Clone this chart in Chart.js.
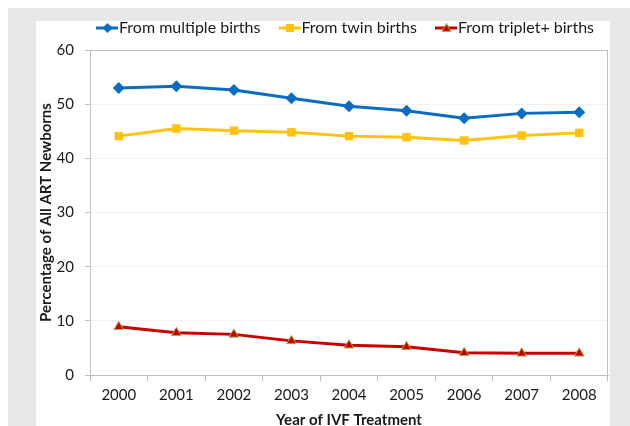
<!DOCTYPE html>
<html>
<head>
<meta charset="utf-8">
<script src="https://cdn.jsdelivr.net/npm/chart.js@4.4.0/dist/chart.umd.min.js"></script>
<style>
  html, body { margin: 0; padding: 0; background: #fff; width: 630px; height: 426px; overflow: hidden; position: relative; }
  #frame { position: absolute; left: 8px; top: 8px; width: 622px; height: 430px; background: #e7e8ea; }
  #panel { position: absolute; left: 36px; top: 21px; width: 574px; height: 420px; background: #fff; }
  #chart { position: absolute; left: 0; top: 0; }
</style>
</head>
<body>
<div id="frame"></div>
<div id="panel"></div>
<canvas id="chart" width="630" height="445"></canvas>
<script>
// values
const years = ['2000', '2001', '2002', '2003', '2004', '2005', '2006', '2007', '2008'];
const multipleBirths = [53.0, 53.3, 52.6, 51.1, 49.6, 48.8, 47.4, 48.3, 48.5];
const twinBirths = [44.1, 45.5, 45.1, 44.8, 44.1, 43.9, 43.3, 44.2, 44.7];
const tripletBirths = [8.9, 7.8, 7.5, 6.3, 5.5, 5.2, 4.1, 4.0, 4.0];
const seriesNames = ['From multiple births', 'From twin births', 'From triplet+ births'];

const BLUE = '#0a6cc2';
const YELLOW = '#ffc20e';
const RED = '#c80000';
const AXIS = '#bfbfbf';
const FONT = 'Lato, "Open Sans", sans-serif';

/**
 * Builds a small Excel-style legend icon: a line with the marker in the middle.
 */
function makeLegendIcon(color, shape, borderColor) {
    const c = document.createElement('canvas');
    c.width = 22;
    c.height = 12;
    const g = c.getContext('2d');
    g.strokeStyle = color;
    g.lineWidth = 3;
    g.beginPath();
    g.moveTo(0, 6);
    g.lineTo(22, 6);
    g.stroke();
    g.fillStyle = color;
    g.beginPath();
    if (shape === 'diamond') {
        g.moveTo(11, 1); g.lineTo(16, 6); g.lineTo(11, 11); g.lineTo(6, 6);
    } else if (shape === 'square') {
        g.rect(7, 2, 8, 8);
    } else {
        g.moveTo(11, 1.5); g.lineTo(15.5, 9.5); g.lineTo(6.5, 9.5);
    }
    g.closePath();
    g.fill();
    if (borderColor) {
        g.strokeStyle = borderColor;
        g.lineWidth = 1;
        g.stroke();
    }
    return c;
}

const legendIcons = [
    makeLegendIcon(BLUE, 'diamond'),
    makeLegendIcon(YELLOW, 'square'),
    makeLegendIcon(RED, 'triangle', '#b0a84a')
];

// thin frame round the plot area
const plotFrame = {
    id: 'plotFrame',
    beforeDatasetsDraw(chart) {
        const { ctx, chartArea: a } = chart;
        ctx.save();
        ctx.strokeStyle = AXIS;
        ctx.lineWidth = 1;
        ctx.strokeRect(Math.round(a.left) + 0.5, Math.round(a.top) + 0.5,
            Math.round(a.right - a.left) - 1, Math.round(a.bottom - a.top));
        ctx.restore();
    }
};

// nudge the legend: a bit more room under it, and shift where it is drawn
const legendNudge = {
    id: 'legendNudge',
    afterInit(chart) {
        const lg = chart.legend;
        if (!lg) return;
        const fit = lg.fit.bind(lg);
        lg.fit = function () {
            fit();
            this.height -= 2;
        };
        const draw = lg.draw.bind(lg);
        lg.draw = function (area) {
            chart.ctx.save();
            chart.ctx.translate(12, -6);
            draw(area);
            chart.ctx.restore();
        };
    }
};

new Chart(document.getElementById('chart'), {
    type: 'line',
    data: {
        labels: years,
        datasets: [
            {
                label: seriesNames[0],
                data: multipleBirths,
                borderColor: BLUE,
                backgroundColor: BLUE,
                borderWidth: 3,
                pointStyle: 'rectRot',
                pointRadius: 6,
                pointBorderWidth: 0,
                tension: 0
            },
            {
                label: seriesNames[1],
                data: twinBirths,
                borderColor: YELLOW,
                backgroundColor: YELLOW,
                borderWidth: 3,
                pointStyle: 'rect',
                pointRadius: 6,
                pointBorderWidth: 0,
                tension: 0
            },
            {
                label: seriesNames[2],
                data: tripletBirths,
                borderColor: RED,
                backgroundColor: RED,
                borderWidth: 3,
                pointStyle: 'triangle',
                pointRadius: 5.5,
                pointBorderColor: '#b0a84a',
                pointBorderWidth: 1,
                tension: 0
            }
        ]
    },
    options: {
        responsive: false,
        animation: false,
        devicePixelRatio: 1,
        layout: { padding: { left: 36, right: 22, top: 0, bottom: 0 } },
        plugins: {
            tooltip: { enabled: false },
            legend: {
                position: 'top',
                align: 'end',
                labels: {
                    usePointStyle: true,
                    pointStyleWidth: 7,
                    padding: 26,
                    color: '#1a1a1a',
                    font: { family: FONT, size: 16 },
                    generateLabels: chart =>
                        Chart.defaults.plugins.legend.labels.generateLabels(chart).map((l, i) => ({
                            ...l,
                            pointStyle: legendIcons[i]
                        }))
                }
            }
        },
        scales: {
            x: {
                offset: true,
                grid: {
                    offset: true,
                    drawOnChartArea: false,
                    drawTicks: true,
                    tickLength: 6,
                    color: AXIS
                },
                border: { color: AXIS },
                ticks: {
                    color: '#1a1a1a',
                    padding: 5,
                    maxRotation: 0,
                    font: { family: FONT, size: 15 }
                },
                title: {
                    display: true,
                    text: 'Year of IVF Treatment',
                    color: '#1a1a1a',
                    font: { family: FONT, size: 15, weight: 'bold' },
                    padding: { top: 4, bottom: 16 }
                },
                afterFit(scale) { scale.height = 70; }
            },
            y: {
                min: 0,
                max: 60,
                grid: {
                    color: '#f1f1f1',
                    tickColor: AXIS,
                    tickLength: 5
                },
                border: { color: AXIS },
                ticks: {
                    stepSize: 10,
                    color: '#1a1a1a',
                    padding: 11,
                    font: { family: FONT, size: 15 }
                },
                title: {
                    display: true,
                    text: 'Percentage of All ART Newborns',
                    color: '#1a1a1a',
                    font: { family: FONT, size: 15, weight: 'bold' },
                    padding: { top: 1, bottom: 0 }
                },
                afterFit(scale) { scale.width = 54; }
            }
        }
    },
    plugins: [plotFrame, legendNudge]
});
</script>
</body>
</html>
